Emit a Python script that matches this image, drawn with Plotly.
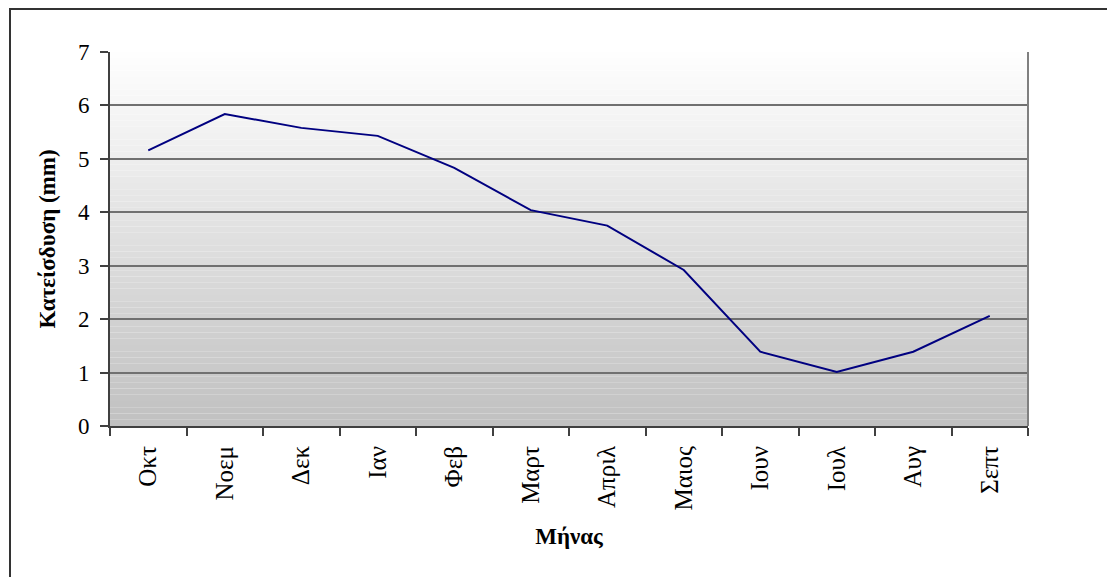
import plotly.graph_objects as go

months = ["Οκτ", "Νοεμ", "Δεκ", "Ιαν", "Φεβ", "Μαρτ", "Απριλ", "Μαιος", "Ιουν", "Ιουλ", "Αυγ", "Σεπτ"]
infiltration = [5.16, 5.84, 5.58, 5.43, 4.83, 4.04, 3.75, 2.92, 1.39, 1.01, 1.39, 2.06]
y_ticks = [0, 1, 2, 3, 4, 5, 6, 7]

FONT = "Liberation Serif, Times New Roman, serif"
FS = 23
FSX = 25
# the page body has an 8px margin; figure coordinates are offset by it
W, H = 1107, 569
ML, MR, MT, MB = 102, 87, 44, 151
PW, PH = W - ML - MR, H - MT - MB

fig = go.Figure()
fig.add_trace(go.Scatter(
    x=months, y=infiltration, mode="lines",
    line=dict(color="#000080", width=2),
    hoverinfo="x+y", showlegend=False,
))

shapes = []
# vertical gradient background (white at top -> grey at bottom)
n = 60
for i in range(n):
    t = (i + 0.5) / n  # 0 at bottom
    v = int(round(192 + (255 - 192) * t))
    col = f"rgb({v},{v},{v})"
    shapes.append(dict(type="rect", xref="paper", yref="paper",
                       x0=0, x1=1, y0=i / n, y1=(i + 1) / n,
                       fillcolor=col, line=dict(width=0), layer="below"))
# right border of plot area
shapes.append(dict(type="line", xref="paper", yref="paper", x0=1, x1=1, y0=0, y1=1,
                   line=dict(color="#808080", width=2)))
# outer chart border
px = lambda v: (v - ML) / PW
py = lambda v: (H - MB - v) / PH
shapes.append(dict(type="rect", xref="paper", yref="paper",
                   x0=px(2), x1=px(1130), y0=py(600), y1=py(1),
                   line=dict(color="#333333", width=2), fillcolor="rgba(0,0,0,0)"))

fig.update_layout(
    width=W, height=H,
    margin=dict(l=ML, r=MR, t=MT, b=MB, pad=0),
    paper_bgcolor="white", plot_bgcolor="rgba(0,0,0,0)",
    font=dict(family=FONT, size=FS, color="black"),
    shapes=shapes,
    xaxis=dict(
        type="category", range=[-0.5, 11.5],
        tickangle=-90, tickfont=dict(size=FSX, family=FONT),
        showgrid=False, showline=True, linecolor="#404040", linewidth=2,
        ticks="outside", ticklen=8, tickcolor="#404040", tickwidth=1.5,
        tickson="boundaries", ticklabelstandoff=8,
        title=dict(text="<b>Μήνας</b>", font=dict(size=FS, family=FONT), standoff=18),
    ),
    yaxis=dict(
        range=[0, 7], tickvals=y_ticks,
        tickfont=dict(size=FS, family=FONT),
        showgrid=True, gridcolor="#707070", gridwidth=1.5,
        showline=True, linecolor="#404040", linewidth=2,
        ticks="outside", ticklen=8, tickcolor="#404040", tickwidth=1.5,
        ticklabelstandoff=6,
        zeroline=False,
        title=dict(text="<b>Κατείσδυση (mm)</b>", font=dict(size=FS, family=FONT), standoff=16),
    ),
)

fig.write_html("out.html")
